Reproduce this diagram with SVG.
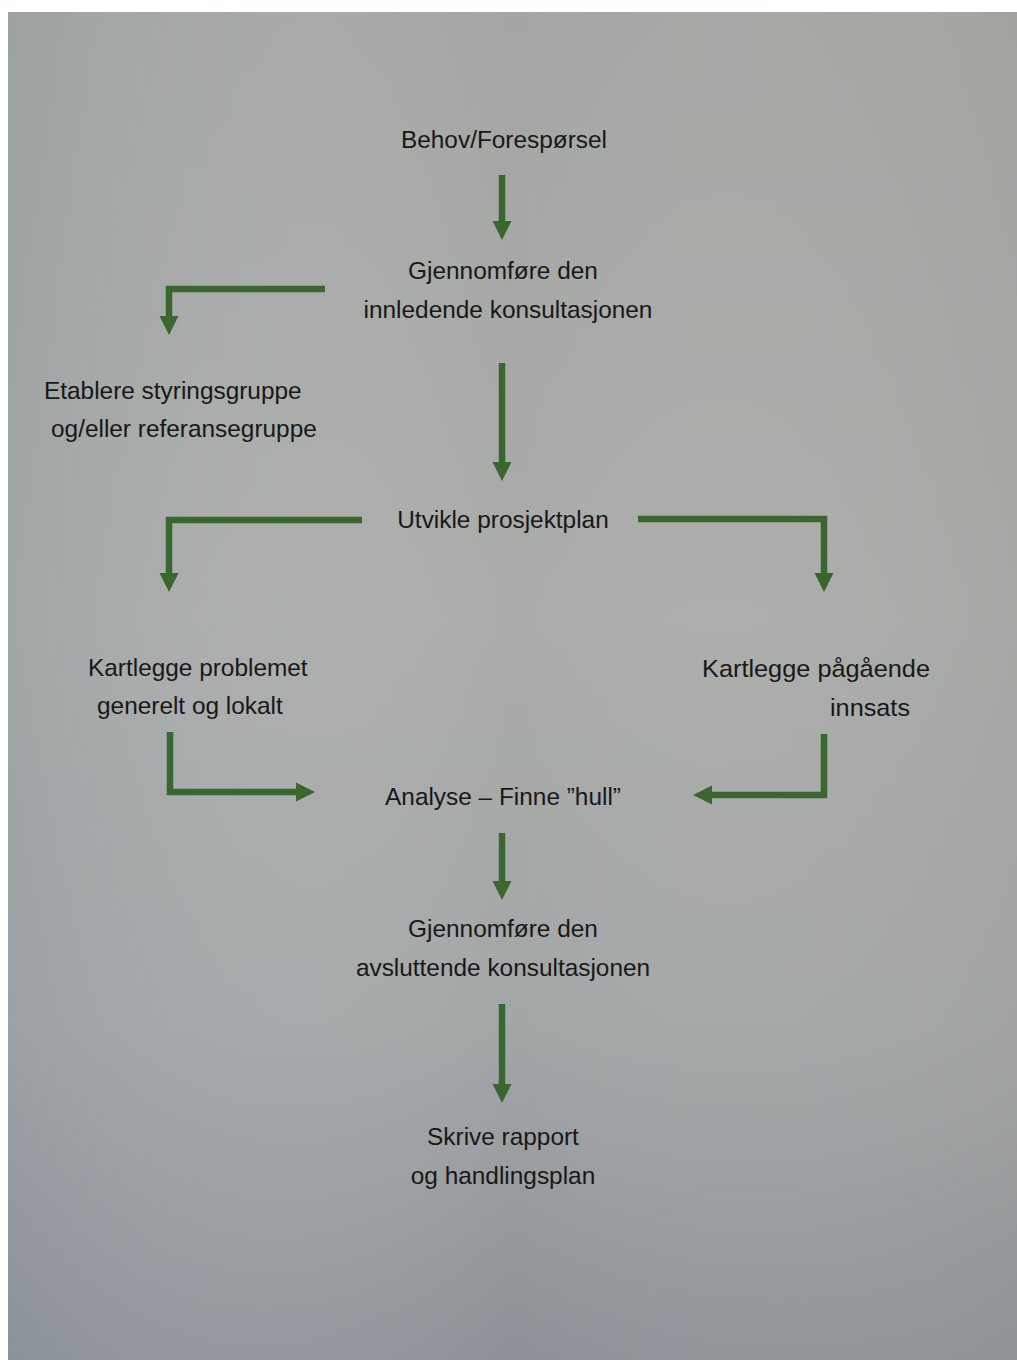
<svg xmlns="http://www.w3.org/2000/svg" width="1017" height="1360" viewBox="0 0 1017 1360">
  <defs>
    <linearGradient id="page" x1="0" y1="0" x2="0" y2="1">
      <stop offset="0" stop-color="#a3a6a2"/>
      <stop offset="0.45" stop-color="#a9aca9"/>
      <stop offset="0.75" stop-color="#a2a6a7"/>
      <stop offset="1" stop-color="#8d9298"/>
    </linearGradient>
    <linearGradient id="side" x1="0" y1="0" x2="1" y2="0">
      <stop offset="0" stop-color="#8a93a0" stop-opacity="0.25"/>
      <stop offset="0.5" stop-color="#ffffff" stop-opacity="0"/>
      <stop offset="1" stop-color="#a09890" stop-opacity="0.15"/>
    </linearGradient>
    <marker id="head" markerUnits="userSpaceOnUse" markerWidth="20" markerHeight="20" refX="0" refY="9.5" orient="auto" overflow="visible">
      <path d="M0,0 L19,9.5 L0,19 Z" fill="#3b6630"/>
    </marker>
    <style>
      text { font-family: "Liberation Sans", Arial, sans-serif; font-size: 24.4px; fill: #181818; }
      .c { text-anchor: middle; }
      .arrow { fill: none; stroke: #3b6630; stroke-width: 6.5; stroke-linejoin: miter; stroke-linecap: butt; marker-end: url(#head); }
    </style>
  </defs>
  <rect x="0" y="0" width="1017" height="1360" fill="#ffffff"/>
  <rect x="8" y="12" width="1009" height="1348" fill="url(#page)"/>
  <rect x="8" y="12" width="1009" height="1348" fill="url(#side)"/>

  <g id="connectors">
    <path class="arrow" d="M502,175 L502,221"/>
    <path class="arrow" d="M325,289 L169,289 L169,316"/>
    <path class="arrow" d="M502,363 L502,462"/>
    <path class="arrow" d="M362,520 L169,520 L169,573"/>
    <path class="arrow" d="M638,519 L824,519 L824,573"/>
    <path class="arrow" d="M170,732 L170,792 L296,792"/>
    <path class="arrow" d="M824,734 L824,795 L712,795"/>
    <path class="arrow" d="M502,833 L502,881"/>
    <path class="arrow" d="M502,1004 L502,1084"/>
  </g>

  <g id="n-behov"><text class="c" x="504" y="148">Behov/Forespørsel</text></g>
  <g id="n-innledende">
    <text class="c" x="503" y="279">Gjennomføre den</text>
    <text class="c" x="508" y="318">innledende konsultasjonen</text>
  </g>
  <g id="n-etablere">
    <text x="44" y="399">Etablere styringsgruppe</text>
    <text x="51" y="437">og/eller referansegruppe</text>
  </g>
  <g id="n-utvikle"><text class="c" x="503" y="528">Utvikle prosjektplan</text></g>
  <g id="n-kartlegge-problemet">
    <text x="88" y="676">Kartlegge problemet</text>
    <text x="97" y="714">generelt og lokalt</text>
  </g>
  <g id="n-kartlegge-innsats">
    <text x="702" y="677" textLength="228" lengthAdjust="spacingAndGlyphs">Kartlegge pågående</text>
    <text x="830" y="716" textLength="80" lengthAdjust="spacingAndGlyphs">innsats</text>
  </g>
  <g id="n-analyse"><text class="c" x="503" y="805">Analyse – Finne ”hull”</text></g>
  <g id="n-avsluttende">
    <text class="c" x="503" y="937">Gjennomføre den</text>
    <text class="c" x="503" y="976">avsluttende konsultasjonen</text>
  </g>
  <g id="n-rapport">
    <text class="c" x="503" y="1145">Skrive rapport</text>
    <text class="c" x="503" y="1184">og handlingsplan</text>
  </g>
</svg>
